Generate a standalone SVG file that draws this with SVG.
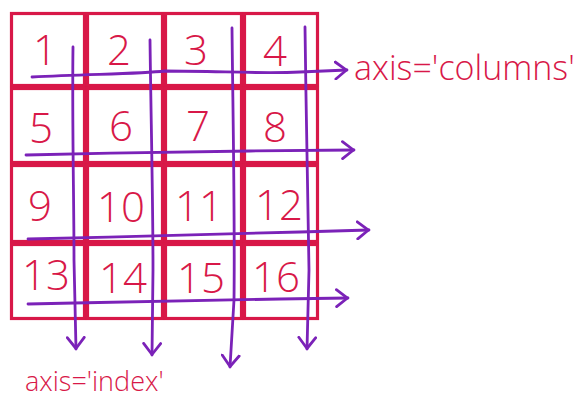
<svg xmlns="http://www.w3.org/2000/svg" width="580" height="406" viewBox="0 0 580 406">
<style>
.cell{fill:none;stroke:#d81848;stroke-width:3.2}
.num{font-family:"Open Sans",sans-serif;font-weight:300;font-size:42px;fill:#d81848;text-anchor:middle}
.lbl{font-family:"Open Sans",sans-serif;font-weight:300;fill:#d81848}
.arr{fill:none;stroke:#7b22b8;stroke-width:2.8;stroke-linecap:round;stroke-linejoin:round}
</style>
<defs>
<marker id="ah" viewBox="0 0 14 20" refX="13" refY="10" markerWidth="14" markerHeight="20" markerUnits="userSpaceOnUse" orient="auto">
<path d="M1.5,1.5 L12.5,10 L1.5,18.5" fill="none" stroke="#7b22b8" stroke-width="2.8" stroke-linecap="round" stroke-linejoin="round"/>
</marker>
</defs>
<rect width="580" height="406" fill="#ffffff"/>
<g id="cells">
<g id="c1"><rect class="cell" x="11.5" y="13.5" width="73" height="72"/><text class="num" x="45" y="65">1</text></g>
<g id="c2"><rect class="cell" x="87.5" y="13.5" width="75" height="72"/><text class="num" x="119" y="65">2</text></g>
<g id="c3"><rect class="cell" x="165.5" y="13.5" width="76" height="72"/><text class="num" x="196" y="65">3</text></g>
<g id="c4"><rect class="cell" x="244.5" y="13.5" width="73" height="72"/><text class="num" x="275" y="66">4</text></g>
<g id="c5"><rect class="cell" x="11.5" y="88.5" width="73" height="74"/><text class="num" x="41" y="143">5</text></g>
<g id="c6"><rect class="cell" x="87.5" y="88.5" width="75" height="74"/><text class="num" x="121" y="141">6</text></g>
<g id="c7"><rect class="cell" x="165.5" y="88.5" width="76" height="74"/><text class="num" x="198" y="141">7</text></g>
<g id="c8"><rect class="cell" x="244.5" y="88.5" width="73" height="74"/><text class="num" x="275" y="142">8</text></g>
<g id="c9"><rect class="cell" x="11.5" y="165.5" width="73" height="76"/><text class="num" x="40" y="221">9</text></g>
<g id="c10"><rect class="cell" x="87.5" y="165.5" width="75" height="76"/><text class="num" x="121" y="222">10</text></g>
<g id="c11"><rect class="cell" x="165.5" y="165.5" width="76" height="76"/><text class="num" x="199" y="221">11</text></g>
<g id="c12"><rect class="cell" x="244.5" y="165.5" width="73" height="76"/><text class="num" x="279" y="220">12</text></g>
<g id="c13"><rect class="cell" x="11.5" y="244.5" width="73" height="74"/><text class="num" x="46" y="290">13</text></g>
<g id="c14"><rect class="cell" x="87.5" y="244.5" width="75" height="74"/><text class="num" x="123" y="293">14</text></g>
<g id="c15"><rect class="cell" x="165.5" y="244.5" width="76" height="74"/><text class="num" x="201" y="293">15</text></g>
<g id="c16"><rect class="cell" x="244.5" y="244.5" width="73" height="74"/><text class="num" x="276" y="292">16</text></g>
</g>
<g id="connectors">
<path class="arr" marker-end="url(#ah)" d="M32,77 C90,74 140,74 165,71 C220,71 260,74 300,72 L347,70"/>
<path class="arr" marker-end="url(#ah)" d="M26,155 C100,153 180,152 250,151 L354,150"/>
<path class="arr" marker-end="url(#ah)" d="M28,239 C120,237 220,234 300,232 L369,230"/>
<path class="arr" marker-end="url(#ah)" d="M28,304 C120,302 220,300 280,299 L348,298"/>
<path class="arr" marker-end="url(#ah)" d="M73,47 C72,120 74,200 74,260 L76,349"/>
<path class="arr" marker-end="url(#ah)" d="M150,40 C151,120 153,200 153,270 L152,355"/>
<path class="arr" marker-end="url(#ah)" d="M232,28 C233,120 235,220 234,300 L230,367"/>
<path class="arr" marker-end="url(#ah)" d="M305,27 C306,110 308,200 309,270 L307,349"/>
</g>
<g id="labels">
<text class="lbl" x="354" y="80" font-size="34">axis='columns'</text>
<text class="lbl" x="25" y="391" font-size="27">axis='index'</text>
</g>
</svg>
